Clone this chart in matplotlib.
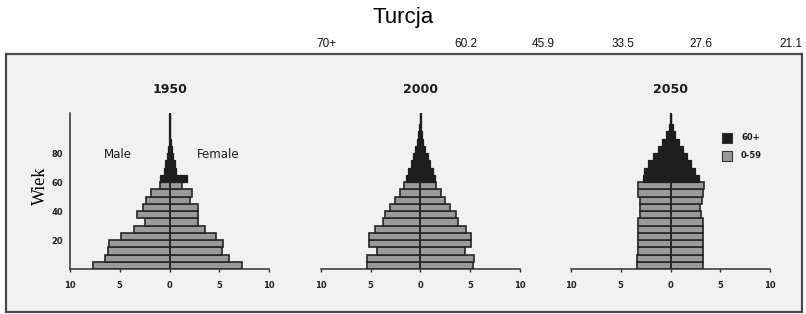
"""
Piramidy wieku - Turcja 1950 / 2000 / 2050.
Odtworzenie zeskanowanego wykresu (szare 0-59, czarne 60+).
"""

import matplotlib
matplotlib.use("Agg")
import matplotlib.pyplot as plt
from matplotlib.patches import Rectangle
import numpy as np

W, H = 806, 314

age_groups = ["0-4", "5-9", "10-14", "15-19", "20-24", "25-29", "30-34", "35-39",
              "40-44", "45-49", "50-54", "55-59", "60-64", "65-69", "70-74", "75-79",
              "80-84", "85-89", "90-94", "95-99", "100+"]
top_age = 107.6  # koniec najstarszej grupy (cienki "szpic")

years = ["1950", "2000", "2050"]

# procent populacji w grupach wieku
male_1950 = [7.7, 6.5, 6.15, 6.1, 4.85, 3.55, 2.5, 3.3, 2.7, 2.4, 1.9, 1.0,
             1.0, 0.6, 0.5, 0.3, 0.17, 0.1, 0.065, 0.065, 0.065]
female_1950 = [7.3, 6.0, 5.3, 5.4, 4.7, 3.6, 2.85, 2.85, 2.85, 2.1, 2.3, 1.3,
               1.8, 0.7, 0.6, 0.4, 0.27, 0.17, 0.065, 0.065, 0.065]

male_2000 = [5.4, 5.4, 4.4, 5.2, 5.2, 4.6, 3.7, 3.55, 3.0, 2.55, 2.05, 1.6,
             1.4, 1.2, 0.95, 0.7, 0.5, 0.3, 0.2, 0.1, 0.07]
female_2000 = [5.3, 5.4, 4.45, 5.05, 5.05, 4.55, 3.75, 3.6, 3.0, 2.5, 2.1, 1.6,
               1.5, 1.25, 1.0, 0.75, 0.5, 0.3, 0.2, 0.1, 0.07]

male_2050 = [3.4, 3.4, 3.3, 3.3, 3.3, 3.3, 3.3, 3.1, 3.05, 3.1, 3.3, 3.3,
             2.8, 2.65, 2.3, 1.75, 1.3, 0.9, 0.5, 0.17, 0.1]
female_2050 = [3.3, 3.3, 3.25, 3.25, 3.25, 3.25, 3.25, 3.05, 3.0, 3.15, 3.3, 3.35,
               2.85, 2.5, 2.1, 1.7, 1.3, 0.87, 0.45, 0.27, 0.1]

# liczby w wierszu nad ramka
header_labels = ["70+", "60.2", "45.9", "33.5", "27.6", "21.1"]
header_x = [326, 466, 543, 623, 701, 791]

y_ticks = [20, 40, 60, 80]
x_ticks = [-10, -5, 0, 5, 10]

GRAY = "#9a9a9a"
DARK = "#1e1e1e"
EDGE = "#262626"


def fx(x):
    return x / W


def fy(y):
    return 1 - y / H


def age_edges():
    starts = [int(g.split("-")[0].rstrip("+")) for g in age_groups]
    ends = starts[1:] + [top_age]
    return np.array(starts, float), np.array(ends, float)


def draw_pyramid(ax, male, female):
    starts, ends = age_edges()
    male = np.array(male)
    female = np.array(female)
    young = starts < 60
    old = ~young
    h = ends - starts
    # 0-59: szare slupki z czarnym obrysem
    ax.barh(starts[young], -male[young], height=h[young], align="edge",
            color=GRAY, edgecolor=EDGE, linewidth=1.2, zorder=2)
    ax.barh(starts[young], female[young], height=h[young], align="edge",
            color=GRAY, edgecolor=EDGE, linewidth=1.2, zorder=2)
    # 60+: czarne schodki
    ax.barh(starts[old], -male[old], height=h[old], align="edge",
            color=DARK, edgecolor=DARK, linewidth=0.9, zorder=3)
    ax.barh(starts[old], female[old], height=h[old], align="edge",
            color=DARK, edgecolor=DARK, linewidth=0.9, zorder=3)
    ax.plot([0, 0], [0, 60], color=EDGE, lw=1.2, zorder=4)


fig = plt.figure(figsize=(W / 100, H / 100), dpi=100)
fig.patch.set_facecolor("white")

# ramka zeskanowanego wykresu
fig.add_artist(Rectangle((fx(6), fy(312)), fx(802) - fx(6), fy(54) - fy(312),
                         transform=fig.transFigure, facecolor="#f1f1f1",
                         edgecolor="#4a4a4a", linewidth=1.6, zorder=0))

fig.text(fx(403), fy(18), "Turcja", ha="center", va="center", fontsize=16,
         family=["Liberation Sans", "DejaVu Sans"])
for lab, x in zip(header_labels, header_x):
    fig.text(fx(x), fy(44), lab, ha="center", va="center", fontsize=8.5,
             family=["Liberation Sans", "DejaVu Sans"], color="#111111")

centers = [169.5, 420.3, 670.5]
half = 99.5
base_y, top_y = 269, 113
data = [(male_1950, female_1950), (male_2000, female_2000), (male_2050, female_2050)]

for i, (cx, yr, (m, f)) in enumerate(zip(centers, years, data)):
    ax = fig.add_axes([fx(cx - half), fy(base_y), 2 * half / W, (base_y - top_y) / H])
    ax.set_facecolor("none")
    draw_pyramid(ax, m, f)
    ax.set_xlim(-10, 10)
    ax.set_ylim(0, top_age)
    for s in ["top", "right"]:
        ax.spines[s].set_visible(False)
    ax.spines["bottom"].set_color("#303030")
    ax.spines["bottom"].set_linewidth(1.1)
    ax.set_xticks(x_ticks)
    ax.set_xticklabels([str(abs(t)) for t in x_ticks])
    ax.tick_params(axis="x", length=2.5, width=1, color="#303030", pad=6,
                   labelsize=6, labelcolor="#222222")
    for t in ax.get_xticklabels():
        t.set_fontweight("bold")
    if i == 0:
        ax.spines["left"].set_color("#303030")
        ax.spines["left"].set_linewidth(1.1)
        ax.set_yticks(y_ticks)
        ax.tick_params(axis="y", length=0, pad=5, labelsize=6, labelcolor="#222222")
        for t in ax.get_yticklabels():
            t.set_fontweight("bold")
    else:
        ax.spines["left"].set_visible(False)
        ax.set_yticks([])
    fig.text(fx(cx), fy(89), yr, ha="center", va="center", fontsize=9,
             fontweight="bold", color="#1a1a1a")

fig.text(fx(118), fy(154), "Male", ha="center", va="center", fontsize=8.5, color="#1a1a1a")
fig.text(fx(218), fy(154), "Female", ha="center", va="center", fontsize=8.5, color="#1a1a1a")
fig.text(fx(40), fy(186), "Wiek", ha="center", va="center", rotation=90, fontsize=13,
         family=["Liberation Serif", "DejaVu Serif"])

# legenda
for lab, col, y in [("60+", DARK, 138), ("0-59", GRAY, 156)]:
    fig.add_artist(Rectangle((fx(722), fy(y + 5)), 10 / W, 10 / H, transform=fig.transFigure,
                             facecolor=col, edgecolor="#333333", linewidth=0.8))
    fig.text(fx(741), fy(y), lab, ha="left", va="center", fontsize=6,
             fontweight="bold", color="#1a1a1a")

fig.savefig("out.png", dpi=100)
